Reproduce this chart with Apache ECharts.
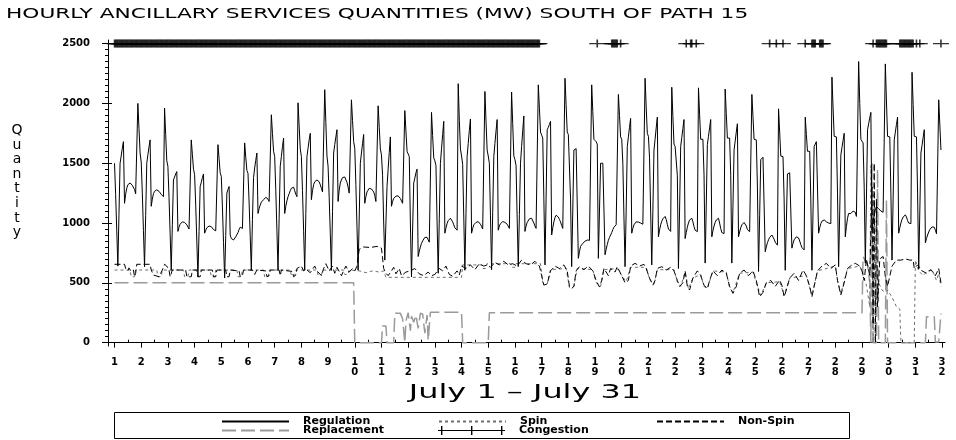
<!DOCTYPE html>
<html>
<head>
<meta charset="utf-8">
<script src="https://cdn.jsdelivr.net/npm/echarts@6/dist/echarts.min.js"></script>
<style>
html, body { margin: 0; padding: 0; background: #fff; }
#chart { width: 956px; height: 440px; }
</style>
</head>
<body>
<div id="chart"></div>
<script>
// day ticks on the x axis (32 = end of July 31)
var dayTicks = [1,2,3,4,5,6,7,8,9,10,11,12,13,14,15,16,17,18,19,20,21,22,23,24,25,26,27,28,29,30,31,32];
var halfDayTicks = [1.5,2.5,3.5,4.5,5.5,6.5,7.5,8.5,9.5,10.5,11.5,12.5,13.5,14.5,15.5,16.5,17.5,18.5,19.5,20.5,21.5,22.5,23.5,24.5,25.5,26.5,27.5,28.5,29.5,30.5,31.5];
var yTicks = [0, 500, 1000, 1500, 2000, 2500];

// Regulation, MW, one row per day, hours 0..23
var regulation = [
  [1500,1240,940,640,1070,1500,1560,1625,1680,1165,1240,1290,1320,1333,1335,1325,1315,1300,1280,1245,1235,2000,1790,1585],
  [1510,1250,940,635,1065,1500,1570,1635,1695,1140,1200,1245,1265,1280,1278,1275,1265,1250,1240,1230,1220,1960,1740,1520],
  [1475,1215,910,605,985,1360,1385,1410,1430,930,965,990,1000,1010,1012,1005,998,985,975,950,942,1695,1575,1450],
  [1405,1150,850,550,930,1305,1340,1380,1410,915,940,960,960,975,972,970,960,945,950,935,928,1655,1540,1420],
  [1390,1135,835,540,895,1250,1280,1305,900,870,860,858,870,885,900,920,945,965,970,955,940,1670,1550,1440],
  [1415,1175,890,605,1030,1380,1460,1525,1585,1080,1120,1150,1175,1190,1195,1205,1215,1220,1200,1180,1165,1905,1750,1600],
  [1555,1270,940,605,1040,1475,1555,1640,1710,1080,1140,1185,1220,1245,1270,1290,1305,1300,1270,1240,1220,2005,1810,1620],
  [1555,1270,940,605,1080,1555,1625,1695,1750,1195,1270,1320,1345,1355,1360,1360,1345,1320,1290,1260,1250,2115,1840,1560],
  [1475,1215,910,605,1095,1585,1655,1720,1780,1180,1275,1335,1360,1380,1390,1385,1370,1340,1300,1250,1235,2030,1855,1680],
  [1625,1320,965,605,1050,1500,1585,1665,1740,1165,1220,1260,1275,1290,1290,1285,1275,1260,1230,1180,1165,1980,1800,1620],
  [1570,1400,1000,690,1000,1305,1450,1590,1720,1140,1180,1205,1220,1225,1227,1227,1220,1205,1185,1165,1150,1940,1770,1600],
  [1590,1555,1000,550,950,1335,1375,1420,1450,720,765,800,830,850,865,880,885,880,860,840,830,1925,1730,1545],
  [1520,1480,1000,580,1040,1500,1620,1740,1850,915,960,995,1020,1035,1040,1030,1010,985,960,945,940,2165,1860,1620],
  [1560,1490,1050,605,1080,1555,1665,1775,1870,915,955,985,1000,1005,1010,1012,1005,990,970,950,940,2100,1850,1610],
  [1560,1500,1060,610,1085,1555,1665,1770,1865,940,975,995,1005,1012,1010,1005,1000,990,975,955,945,2095,1830,1560],
  [1530,1480,1040,635,1070,1500,1640,1770,1895,930,975,1005,1020,1035,1040,1040,1025,1000,975,955,945,2155,1960,1760],
  [1735,1710,1200,650,1200,1780,1800,1825,1850,900,960,1010,1045,1065,1068,1050,1030,1010,980,955,945,2210,1990,1760],
  [1740,1725,1200,635,1100,1610,1618,1622,1625,705,760,805,820,830,840,848,855,858,858,855,860,2155,1930,1700],
  [1690,1680,1660,705,1100,1500,1500,1500,1500,735,780,820,855,880,900,920,945,965,980,985,980,2075,1900,1720],
  [1700,1500,1050,635,1100,1640,1720,1800,1875,915,955,985,1000,1010,1012,1008,1003,1000,995,990,985,2210,1970,1750],
  [1725,1550,1100,650,1100,1610,1700,1795,1885,885,940,985,1015,1035,1050,1055,1030,990,950,935,930,2135,1890,1660],
  [1640,1640,1400,620,1100,1640,1715,1790,1865,870,920,965,1000,1025,1038,1040,1010,970,940,930,928,2130,1910,1700],
  [1700,1700,1400,665,1150,1655,1725,1795,1865,885,935,975,1005,1025,1038,1040,1000,955,920,915,912,2120,1915,1710],
  [1710,1710,1400,665,1140,1610,1685,1760,1830,885,925,960,985,1000,1005,1000,975,945,930,928,925,2075,1890,1700],
  [1700,1695,1300,595,1060,1530,1540,1550,1555,760,800,835,860,880,895,900,890,865,840,825,815,1955,1760,1560],
  [1560,1555,1200,605,1000,1410,1415,1420,1422,790,830,860,875,885,886,875,850,820,795,780,775,1885,1740,1600],
  [1600,1600,1200,605,1100,1640,1660,1680,1695,915,960,995,1015,1025,1026,1020,1010,1003,1000,998,995,2220,1970,1725],
  [1725,1720,1250,635,1100,1570,1630,1690,1750,885,970,1040,1080,1095,1080,1082,1100,1110,1090,1055,1060,2350,2000,1700],
  [1700,1670,1300,665,1200,1780,1830,1880,1925,940,1010,1070,1110,1140,1130,1120,1110,1100,1095,1090,1085,2330,2020,1725],
  [1725,1720,1250,690,1200,1695,1760,1825,1885,915,960,1000,1030,1050,1062,1068,1050,1020,1000,998,995,2260,1990,1725],
  [1725,1720,1250,615,1100,1585,1650,1715,1780,835,870,900,925,945,960,968,970,965,940,910,900,2030,1820,1610]
];

// Spin, Non-Spin and Replacement: [hour of month, MW] at each change
var spin = [
  [0,607],[14,607],[15,551],[18,551],[19,607],[38,607],[39,551],[42,551],[43,607],
  [62,607],[63,551],[66,551],[67,607],[86,607],[87,551],[90,551],[91,607],
  [110,607],[111,551],[114,551],[115,607],[134,607],[135,551],[138,551],[139,607],
  [158,607],[159,560],[162,560],[163,607],[182,607],[183,565],[186,565],[187,607],
  [206,607],[207,570],[210,570],[211,607],[220,600],[226,585],[232,600],[238,590],[242,600],
  [244,546],[312,546],[313,650],[330,650],[331,620],[334,620],[335,660],[356,660],[357,630],
  [360,630],[361,660],[383,660],[385,500],[389,490],[392,610],[406,620],[409,460],[413,470],
  [416,620],[430,610],[433,500],[437,470],[440,610],[452,620],[456,560],[460,510],[464,630],
  [478,630],[481,530],[485,490],[488,610],[503,610],[506,510],[509,470],[513,590],[516,450],
  [520,540],[527,570],[530,470],[533,455],[538,600],[550,590],[553,460],[556,420],[562,580],
  [574,590],[577,500],[581,395],[586,500],[598,510],[602,395],[607,540],[622,560],[627,395],
  [632,600],[648,640],[650,520],[653,410],[659,620],[670,640],
  [672,600],[676,480],[679,300],[680,1480],[681,900],[682,0],[683,1250],[684,300],[687,500],
  [690,440],[693,420],[695,440],[699,380],[703,300],[706,280],[707,0],[719,0],[720,690],
  [723,600],[727,560],[731,600],[735,610],[739,520],[741,580],[743,470]
];
var nonSpin = [
  [0,655],[9,655],[10,620],[12,600],[13,625],[15,595],[17,607],[18,551],[19,580],[20,655],
  [32,655],[33,607],[35,565],[40,551],[43,607],[45,655],[47,640],
  [49,607],[50,551],[52,607],[64,607],[65,551],[69,551],[70,607],
  [74,607],[75,551],[77,551],[78,607],[88,607],[89,551],[91,551],[92,607],
  [100,607],[101,551],[103,551],[104,607],[112,600],[113,551],[115,560],[116,607],
  [124,607],[126,570],[128,607],[136,600],[137,551],[139,560],[140,607],
  [148,607],[149,560],[150,607],[160,595],[161,551],[163,565],[164,620],
  [168,640],[170,600],[172,615],[176,585],[180,640],[182,600],[186,560],[188,620],[190,660],
  [193,600],[196,640],[198,580],[200,630],[204,560],[206,600],[208,640],[211,590],[214,620],
  [216,600],[218,640],[220,780],[224,800],[230,795],[236,805],[240,790],[242,620],[244,580],
  [246,560],[249,600],[251,630],[253,575],[256,620],[258,560],[262,590],
  [266,600],[270,620],[274,575],[278,560],[282,590],[285,560],
  [288,570],[292,620],[295,600],[298,640],[301,570],[304,555],[308,600],[310,565],
  [312,640],[316,620],[320,650],[324,610],[328,660],[332,640],[335,650],
  [338,630],[342,670],[346,650],[350,680],[354,650],[358,660],
  [362,640],[366,690],[370,660],[374,650],[378,680],[382,640],
  [384,560],[386,481],[389,490],[392,600],[396,640],[400,620],[404,650],[407,600],
  [409,470],[411,453],[413,470],[415,600],[418,635],[422,610],[426,640],[430,600],
  [433,520],[436,465],[438,520],[440,620],[444,560],[446,620],[450,590],[452,635],
  [456,560],[459,500],[462,520],[464,640],[468,663],[472,640],[476,655],[478,620],
  [481,540],[484,481],[486,520],[488,620],[492,635],[496,607],[500,630],[503,600],
  [506,520],[508,470],[511,500],[513,600],[515,470],[517,440],[520,540],[524,600],[527,560],
  [530,480],[533,450],[535,520],[538,600],[542,560],[546,607],[550,580],
  [553,470],[556,412],[559,470],[562,580],[566,607],[570,560],[574,600],
  [577,520],[580,384],[583,420],[586,500],[590,520],[594,470],[598,523],[600,480],
  [602,384],[604,440],[607,540],[611,580],[615,520],[619,607],[622,560],[625,470],
  [627,384],[629,470],[632,600],[636,640],[640,663],[644,620],[648,650],
  [650,520],[653,398],[656,500],[659,620],[663,650],[666,663],[670,640],
  [672,600],[674,520],[676,700],[679,560],[681,1300],[682,150],[683,1500],[684,0],[685,1200],
  [686,300],[688,700],[691,720],[693,550],[695,470],[699,640],[703,690],[707,690],[711,700],
  [715,690],[718,690],[719,620],[722,650],[726,600],[730,580],[734,610],[738,560],[741,620],[743,500]
];
var replacement = [
  [0,500],[215,500],[216,0],[240,0],[241,140],[244,140],[245,0],[251,0],[252,245],[257,245],
  [259,200],[261,0],[262,180],[264,250],[266,100],[267,220],[269,170],[271,230],[273,120],
  [275,245],[277,240],[279,80],[281,230],[282,20],[284,255],[312,255],[313,0],[336,0],[337,250],
  [672,250],[673,718],[677,650],[679,500],[680,0],[681,1500],[682,0],[685,0],[686,1450],[687,0],
  [693,0],[694,1193],[695,0],[719,0],[729,0],[730,216],[737,216],[738,5],[741,5],[743,244]
];

// congested hours, as [first hour, last hour] runs
var congestion = [
  [0,382],[434,434],[447,452],[455,455],[514,514],[518,519],[523,523],
  [589,589],[595,595],[601,601],[621,621],[627,630],[634,637],
  [682,682],[685,694],[706,718],[721,721],[724,724],[743,743]
];

var FONT = '"DejaVu Sans", sans-serif';

function hourToDay(h) {
  return 1 + h / 24;
}

var regulationData = [];
regulation.forEach(function (row, d) {
  row.forEach(function (v, t) {
    regulationData.push([hourToDay(d * 24 + t), v]);
  });
});

function toPoints(list) {
  return list.map(function (p) { return [hourToDay(p[0]), p[1]]; });
}

var congestionData = [];
congestion.forEach(function (run) {
  for (var h = run[0]; h <= run[1]; h++) {
    congestionData.push([hourToDay(h), 2500]);
  }
});

var yMinor = [];
for (var m = 50; m < 2500; m += 50) {
  if (m % 500 !== 0) yMinor.push(m);
}

var chart = echarts.init(document.getElementById('chart'), null, { renderer: 'canvas' });

var legendCommon = {
  orient: 'horizontal',
  padding: 0,
  itemWidth: 67,
  itemHeight: 9,
  selectedMode: false,
  itemStyle: { opacity: 0 },
  textStyle: { fontSize: 11, fontWeight: 'bold', fontFamily: FONT, color: '#000', padding: [0, 0, 0, 9] }
};

var option = {
  animation: false,
  backgroundColor: '#fff',
  grid: { left: 108, right: 11, top: 40, bottom: 94 },
  xAxis: [{
    type: 'value',
    min: 0.756,
    max: 32.11,
    splitLine: { show: false },
    axisLine: { show: true, lineStyle: { color: '#000', width: 1 } },
    axisTick: { show: true, customValues: dayTicks, length: 5, lineStyle: { color: '#000' } },
    axisLabel: {
      customValues: dayTicks,
      margin: 11,
      fontSize: 10,
      fontWeight: 'bold',
      fontFamily: FONT,
      color: '#000',
      lineHeight: 10,
      formatter: function (v) { return String(v).split('').join('\n'); }
    }
  }, {
    type: 'value',
    min: 0.756,
    max: 32.11,
    splitLine: { show: false },
    axisLine: { show: false },
    axisLabel: { show: false },
    axisTick: { show: true, customValues: halfDayTicks, length: 3, lineStyle: { color: '#000' } }
  }],
  yAxis: [{
    type: 'value',
    position: 'left',
    min: -28,
    max: 2530,
    splitLine: { show: false },
    axisLine: { show: true, lineStyle: { color: '#000', width: 1 } },
    axisTick: { show: true, customValues: yTicks, length: 6, lineStyle: { color: '#000' } },
    axisLabel: {
      customValues: yTicks,
      margin: 18,
      fontSize: 10,
      fontWeight: 'bold',
      fontFamily: FONT,
      color: '#000',
      formatter: function (v) { return String(v); }
    }
  }, {
    type: 'value',
    position: 'left',
    min: -28,
    max: 2530,
    splitLine: { show: false },
    axisLine: { show: false },
    axisLabel: { show: false },
    axisTick: { show: true, customValues: yMinor, length: 3, lineStyle: { color: '#000' } }
  }, {
    type: 'value',
    position: 'left',
    min: -28,
    max: 2530,
    splitLine: { show: false },
    axisLine: { show: false },
    axisLabel: { show: false },
    axisTick: { show: true, inside: true, customValues: yTicks, length: 4, lineStyle: { color: '#000' } }
  }],
  legend: [
    Object.assign({ data: ['Regulation'], left: 221, top: 416 }, legendCommon),
    Object.assign({ data: ['Spin'], left: 438, top: 416 }, legendCommon),
    Object.assign({ data: ['Non-Spin'], left: 656, top: 416 }, legendCommon),
    Object.assign({ data: ['Replacement'], left: 221, top: 425 }, legendCommon),
    Object.assign({}, legendCommon, {
      data: [{ name: 'Congestion', icon: 'path://M0,4h67v1h-67z M3,0h1.4v9h-1.4z M33,0h1.4v9h-1.4z M63,0h1.4v9h-1.4z' }],
      itemStyle: { color: '#000', opacity: 1 },
      left: 438, top: 425
    })
  ],
  graphic: [{
    type: 'text',
    x: 6,
    y: 14,
    scaleX: 1.55,
    style: {
      text: 'HOURLY ANCILLARY SERVICES QUANTITIES (MW) SOUTH OF PATH 15',
      font: '14px "DejaVu Sans"',
      fill: '#000',
      align: 'left',
      verticalAlign: 'middle'
    }
  }, {
    type: 'text',
    x: 17,
    y: 123,
    style: {
      text: 'Q\nu\na\nn\nt\ni\nt\ny',
      font: '14px "DejaVu Sans"',
      lineHeight: 14.6,
      fill: '#000',
      align: 'center',
      verticalAlign: 'top'
    }
  }, {
    type: 'text',
    x: 525,
    y: 393,
    scaleX: 1.68,
    style: {
      text: 'July 1 \u2013 July 31',
      font: '19px "DejaVu Sans"',
      fill: '#000',
      align: 'center',
      verticalAlign: 'middle'
    }
  }, {
    type: 'rect',
    shape: { x: 114.5, y: 412.5, width: 735, height: 26 },
    style: { fill: 'none', stroke: '#000', lineWidth: 1 }
  }],
  series: [{
    name: 'Replacement',
    type: 'line',
    data: toPoints(replacement),
    symbol: 'none',
    silent: true,
    itemStyle: { color: '#9a9a9a' },
    lineStyle: { color: '#9a9a9a', width: 1.5, type: [14, 5] },
    z: 2
  }, {
    name: 'Spin',
    type: 'line',
    data: toPoints(spin),
    symbol: 'none',
    silent: true,
    itemStyle: { color: '#6e6e6e' },
    lineStyle: { color: '#6e6e6e', width: 1, type: [3, 3] },
    z: 3
  }, {
    name: 'Non-Spin',
    type: 'line',
    data: toPoints(nonSpin),
    symbol: 'none',
    silent: true,
    itemStyle: { color: '#000' },
    lineStyle: { color: '#000', width: 1, type: [6, 3] },
    z: 4
  }, {
    name: 'Regulation',
    type: 'line',
    data: regulationData,
    symbol: 'none',
    silent: true,
    itemStyle: { color: '#000' },
    lineStyle: { color: '#000', width: 1 },
    z: 5
  }, {
    name: 'Congestion',
    type: 'scatter',
    data: congestionData,
    symbol: 'path://M0,3.4h16v1.2h-16z M7.2,0h1.6v8h-1.6z',
    symbolSize: [16, 8],
    silent: true,
    itemStyle: { color: '#000' },
    z: 6
  }]
};

chart.setOption(option);
</script>
</body>
</html>
